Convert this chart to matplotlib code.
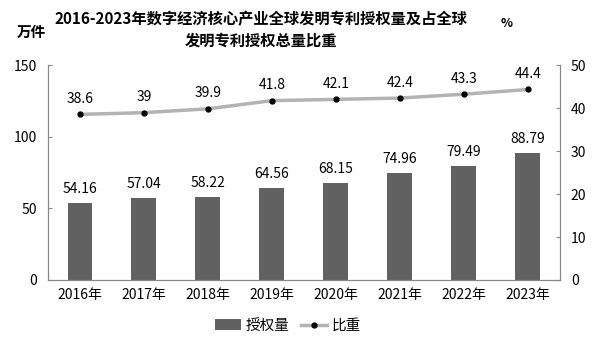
import matplotlib.pyplot as plt
import numpy as np

plt.rcParams['font.family'] = ['Noto Sans CJK SC', 'DejaVu Sans']

years = ['2016年', '2017年', '2018年', '2019年', '2020年', '2021年', '2022年', '2023年']
grants = [54.16, 57.04, 58.22, 64.56, 68.15, 74.96, 79.49, 88.79]
share = [38.6, 39, 39.9, 41.8, 42.1, 42.4, 43.3, 44.4]
share_labels = ['38.6', '39', '39.9', '41.8', '42.1', '42.4', '43.3', '44.4']

fig = plt.figure(figsize=(6, 3.41), dpi=100)
ax = fig.add_axes([0.08, 0.179, 0.853, 0.629])
ax2 = ax.twinx()

x = np.arange(len(years))
ax.bar(x, grants, width=0.39, color='#616161', label='授权量', zorder=2)
for xi, v in zip(x, grants):
    ax.annotate(f'{v:.2f}', (xi, v), xytext=(0, 5), textcoords='offset points',
                ha='center', va='bottom', fontsize=10)

ax2.plot(x, share, color='#b3b3b3', lw=2.5, marker='o', ms=3.5,
         mfc='black', mec='black', label='比重', zorder=3)
for xi, v, t in zip(x, share, share_labels):
    ax2.annotate(t, (xi, v), xytext=(0, 6), textcoords='offset points',
                 ha='center', va='bottom', fontsize=10)

ax.set_xlim(-0.5, len(years) - 0.5)
ax.set_ylim(0, 150)
ax.set_yticks([0, 50, 100, 150])
ax2.set_ylim(0, 50)
ax2.set_yticks(range(0, 51, 10))
ax.set_xticks(x)
ax.set_xticklabels(years)

for a in (ax, ax2):
    for s in a.spines.values():
        s.set_color('#888888')
    a.spines['top'].set_visible(False)
ax.tick_params(axis='y', direction='in', length=3, color='#888888', labelsize=10, pad=8)
ax2.tick_params(axis='y', direction='in', length=3, color='#888888', labelsize=10, pad=8)
ax.tick_params(axis='x', length=0, labelsize=10, pad=6)

# two-line title
fig.text(0.435, 0.945, '2016-2023年数字经济核心产业全球发明专利授权量及占全球',
         ha='center', va='center', fontsize=11, fontweight='bold')
fig.text(0.435, 0.88, '发明专利授权总量比重',
         ha='center', va='center', fontsize=11, fontweight='bold')
fig.text(0.028, 0.905, '万件', fontsize=10.5, fontweight='bold', va='center')
fig.text(0.835, 0.932, '%', fontsize=9, fontweight='bold', va='center')

h1, l1 = ax.get_legend_handles_labels()
h2, l2 = ax2.get_legend_handles_labels()
fig.legend(h1 + h2, l1 + l2, loc='center', bbox_to_anchor=(0.48, 0.045), ncol=2,
           frameon=False, fontsize=10.5, handlelength=1.8, columnspacing=0.8,
           handletextpad=0.3)

fig.savefig('out.png', dpi=100)
